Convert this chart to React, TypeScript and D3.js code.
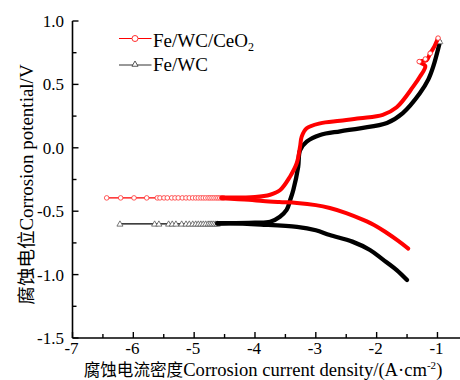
import React from "react";
import * as d3 from "d3";

// ---- data (log|i| in A·cm^-2, potential in V) ----
const xTicks = [-7, -6, -5, -4, -3, -2, -1];
const xTickLabels = ["-7", "-6", "-5", "-4", "-3", "-2", "-1"];
const yTicks = [-1.5, -1.0, -0.5, 0.0, 0.5, 1.0];
const yTickLabels = ["-1.5", "-1.0", "-0.5", "0.0", "0.5", "1.0"];
const xMinor = [-6.5, -5.5, -4.5, -3.5, -2.5, -1.5];
const yMinor = [-1.25, -0.75, -0.25, 0.25, 0.75];

const seriesNames = ["Fe/WC/CeO", "Fe/WC"];

// Fe/WC/CeO2
const redEcorr = -0.395;
const redSparseX = [-6.438, -6.208, -5.989, -5.78, -5.606, -5.562, -5.496, -5.441, -5.369, -5.315, -5.261, -5.195, -5.134, -5.08, -5.024, -4.975, -4.932, -4.888, -4.85, -4.811, -4.772, -4.74, -4.707, -4.674, -4.64, -4.61, -4.58, -4.55, -4.52];
const redCathodic: [number, number][] = [[-4.55, -0.397], [-4.1, -0.41], [-3.87, -0.42], [-3.6, -0.428], [-3.31, -0.435], [-3.0, -0.452], [-2.77, -0.475], [-2.5, -0.515], [-2.22, -0.569], [-2.0, -0.62], [-1.83, -0.672], [-1.65, -0.732], [-1.48, -0.795]];
const redAnodic: [number, number][] = [[-4.55, -0.392], [-4.0, -0.388], [-3.75, -0.37], [-3.59, -0.335], [-3.425, -0.228], [-3.314, -0.122], [-3.259, 0.009], [-3.232, 0.088], [-3.15, 0.154], [-2.93, 0.193], [-2.6, 0.213], [-2.274, 0.233], [-1.9, 0.26], [-1.67, 0.32], [-1.4, 0.482], [-1.29, 0.56], [-1.2, 0.645], [-1.3, 0.68], [-1.18, 0.69], [-1.12, 0.745], [-1.05, 0.8], [-0.99, 0.865]];
const redEndMarkers: [number, number][] = [[-1.3, 0.68], [-1.2, 0.7], [-1.12, 0.745], [-0.99, 0.865]];

// Fe/WC
const blackEcorr = -0.6;
const blackSparseX = [-6.22, -5.65, -5.58, -5.42, -5.36, -5.3, -5.205, -5.134, -5.08, -5.024, -4.975, -4.932, -4.89, -4.85, -4.81, -4.77, -4.74, -4.71, -4.68, -4.65, -4.62];
const blackCathodic: [number, number][] = [[-4.62, -0.598], [-4.41, -0.596], [-3.9, -0.605], [-3.31, -0.623], [-3.0, -0.65], [-2.77, -0.688], [-2.4, -0.74], [-2.11, -0.806], [-1.9, -0.88], [-1.67, -0.964], [-1.5, -1.043]];
const blackAnodic: [number, number][] = [[-4.62, -0.595], [-4.0, -0.59], [-3.75, -0.583], [-3.59, -0.543], [-3.48, -0.49], [-3.42, -0.41], [-3.37, -0.333], [-3.29, -0.15], [-3.26, -0.02], [-3.15, 0.048], [-2.93, 0.101], [-2.6, 0.13], [-2.274, 0.154], [-1.83, 0.196], [-1.57, 0.274], [-1.29, 0.43], [-1.15, 0.54], [-1.07, 0.64], [-0.96, 0.835]];
const blackEndMarkers: [number, number][] = [[-0.96, 0.835]];

const LATIN = "'Liberation Serif', serif";
const CJK = "'Noto Sans CJK SC', sans-serif";

export default function App() {
  const W = 460, H = 380;
  const x = d3.scaleLinear().domain([-7, -0.6]).range([72.5, 461.8]);
  const y = d3.scaleLinear().domain([-1.5, 1.0]).range([338, 21]);
  const line = d3.line<[number, number]>().x(d => x(d[0])).y(d => y(d[1])).curve(d3.curveCatmullRom.alpha(0.5));
  const lin = d3.line<[number, number]>().x(d => x(d[0])).y(d => y(d[1]));
  const tri = d3.symbol().type(d3.symbolTriangle).size(16)() as string;

  const redSparse: [number, number][] = redSparseX.map(v => [v, redEcorr]);
  const blackSparse: [number, number][] = blackSparseX.map(v => [v, blackEcorr]);

  const y0 = y(-1.5);
  const x0 = x(-7);

  return (
    <svg width={W} height={H} style={{ position: "absolute", left: 0, top: 0, display: "block", background: "#fff" }}>
      {/* black series */}
      <path d={lin([...blackSparse, blackAnodic[0]]) as string} fill="none" stroke="#000" strokeWidth={1.1} />
      {blackSparse.map((p, i) => (
        <path key={"bt" + i} d={tri} transform={`translate(${x(p[0])},${y(p[1]) + 0.5})`} fill="#fff" stroke="#555" strokeWidth={0.8} />
      ))}
      <path d={line(blackCathodic) as string} fill="none" stroke="#000" strokeWidth={4.3} strokeLinejoin="round" strokeLinecap="round" />
      <path d={line(blackAnodic) as string} fill="none" stroke="#000" strokeWidth={4.3} strokeLinejoin="round" strokeLinecap="round" />
      {blackEndMarkers.map((p, i) => (
        <path key={"be" + i} d={tri} transform={`translate(${x(p[0])},${y(p[1])})`} fill="#fff" stroke="#666" strokeWidth={0.7} />
      ))}

      {/* red series */}
      <path d={lin([...redSparse, redAnodic[0]]) as string} fill="none" stroke="#ff0000" strokeWidth={1.1} />
      {redSparse.map((p, i) => (
        <circle key={"rc" + i} cx={x(p[0])} cy={y(p[1])} r={2.3} fill="#fff" stroke="#ff3030" strokeWidth={0.8} />
      ))}
      <path d={line(redCathodic) as string} fill="none" stroke="#ff0000" strokeWidth={4.0} strokeLinejoin="round" strokeLinecap="round" />
      <path d={line(redAnodic) as string} fill="none" stroke="#ff0000" strokeWidth={4.0} strokeLinejoin="round" strokeLinecap="round" />
      {redEndMarkers.map((p, i) => (
        <circle key={"re" + i} cx={x(p[0])} cy={y(p[1])} r={2.3} fill="#fff" stroke="#ff3030" strokeWidth={0.9} />
      ))}

      {/* axes */}
      <line x1={x0} x2={x0} y1={y(1.0)} y2={y0} stroke="#000" strokeWidth={1.6} />
      <line x1={x0} x2={W} y1={y0} y2={y0} stroke="#000" strokeWidth={1.6} />
      {yTicks.map(t => (
        <line key={"yt" + t} x1={x0} x2={x0 + 6} y1={y(t)} y2={y(t)} stroke="#000" strokeWidth={1.4} />
      ))}
      {yMinor.map(t => (
        <line key={"ym" + t} x1={x0} x2={x0 + 4} y1={y(t)} y2={y(t)} stroke="#000" strokeWidth={1.4} />
      ))}
      {xTicks.map(t => (
        <line key={"xt" + t} x1={x(t)} x2={x(t)} y1={y0} y2={y0 - 6} stroke="#000" strokeWidth={1.4} />
      ))}
      {xMinor.map(t => (
        <line key={"xm" + t} x1={x(t)} x2={x(t)} y1={y0} y2={y0 - 4} stroke="#000" strokeWidth={1.4} />
      ))}
      {yTicks.map((t, i) => (
        <text key={"yl" + t} x={64} y={y(t) + 6} textAnchor="end" fontSize={17} fill="#000" style={{ fontFamily: LATIN }}>{yTickLabels[i]}</text>
      ))}
      {xTicks.map((t, i) => (
        <text key={"xl" + t} x={x(t) - 1} y={353.5} textAnchor="middle" fontSize={17} fill="#000" style={{ fontFamily: LATIN }}>{xTickLabels[i]}</text>
      ))}

      {/* axis titles */}
      <text x={263} y={376} textAnchor="middle" fontSize={18.6} fill="#000" style={{ fontFamily: LATIN }}>
        <tspan style={{ fontFamily: CJK }} fontSize={16.6}>腐蚀电流密度</tspan>Corrosion current density/(A·cm<tspan fontSize={11} dy={-7}>-2</tspan><tspan dy={7}>)</tspan>
      </text>
      <text transform="translate(33,184.5) rotate(-90)" textAnchor="middle" fontSize={19} fill="#000" style={{ fontFamily: LATIN }}>
        <tspan style={{ fontFamily: CJK }} fontSize={18.5}>腐蚀电位</tspan>Corrosion potential/V
      </text>

      {/* legend */}
      <line x1={119} x2={151.5} y1={38.5} y2={38.5} stroke="#ff0000" strokeWidth={1} />
      <circle cx={135} cy={38.5} r={3} fill="#fff" stroke="#ff3030" strokeWidth={1} />
      <text x={153} y={46.5} fontSize={19} fill="#000" style={{ fontFamily: LATIN }}>
        {seriesNames[0]}<tspan fontSize={12} dy={4}>2</tspan>
      </text>
      <line x1={119} x2={151.5} y1={65} y2={65} stroke="#333" strokeWidth={1} />
      <path d={tri} transform="translate(135,64.5)" fill="#fff" stroke="#444" strokeWidth={0.9} />
      <text x={153} y={70.5} fontSize={19} fill="#000" style={{ fontFamily: LATIN }}>{seriesNames[1]}</text>
    </svg>
  );
}
